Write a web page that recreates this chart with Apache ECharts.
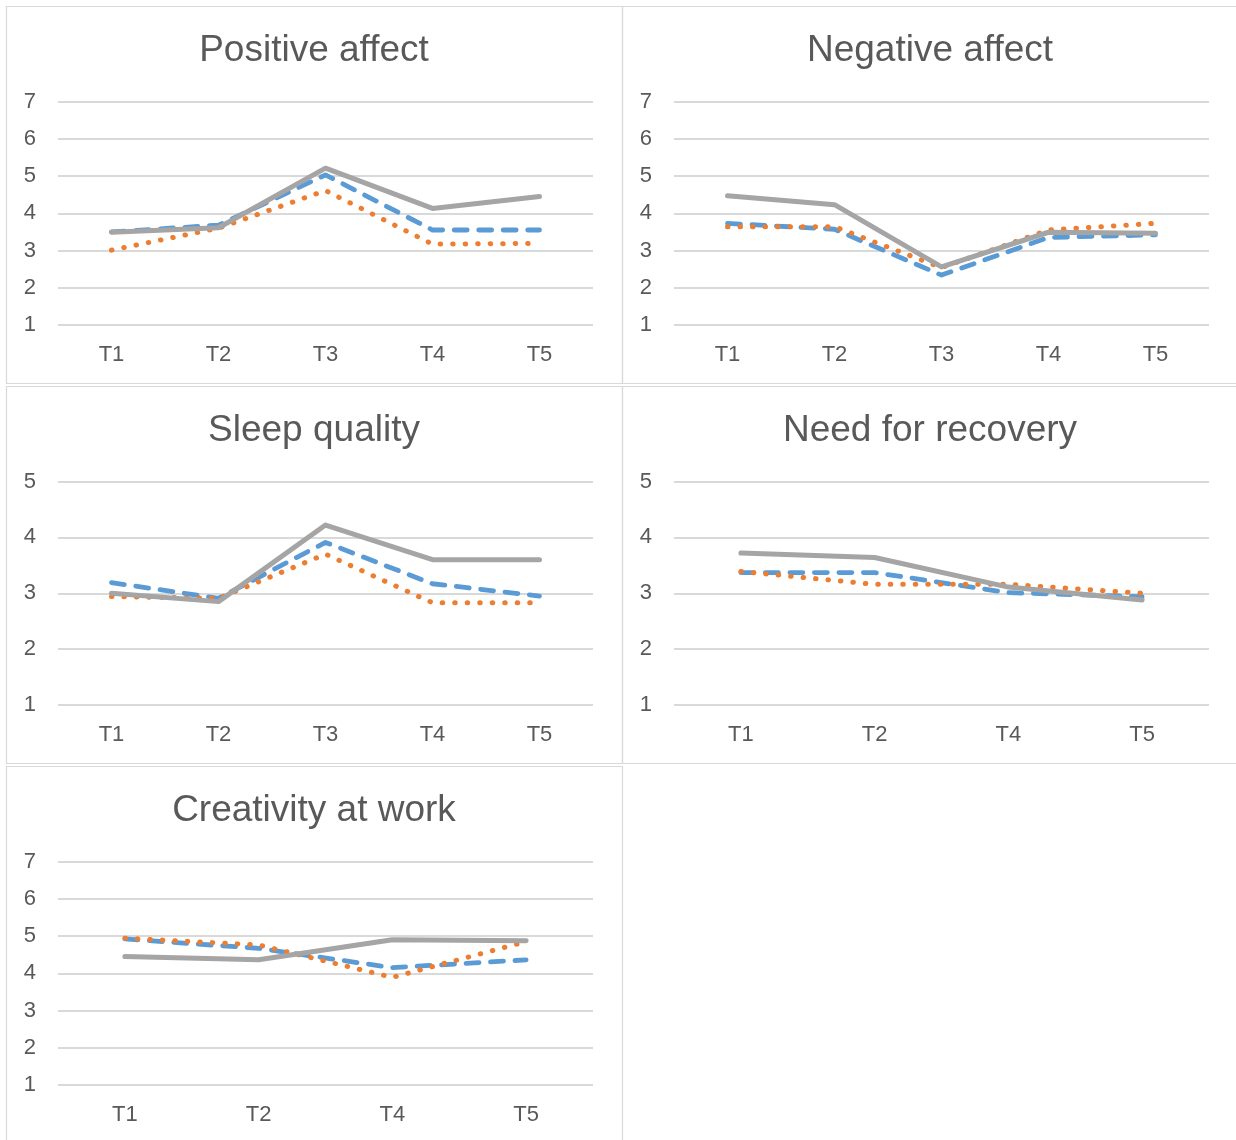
<!DOCTYPE html>
<html>
<head>
<meta charset="utf-8">
<script src="https://cdn.jsdelivr.net/npm/echarts@6/dist/echarts.min.js"></script>
<style>
html,body{margin:0;padding:0;background:#fff;}
#chart{width:1236px;height:1140px;}
</style>
</head>
<body>
<div id="chart"></div>
<script>
// ---- Data ----
const periods5 = ['T1', 'T2', 'T3', 'T4', 'T5'];
const periods4 = ['T1', 'T2', 'T4', 'T5'];
const panelTitles = ['Positive affect', 'Negative affect', 'Sleep quality', 'Need for recovery', 'Creativity at work'];
const seriesNames = ['Series 1', 'Series 2', 'Series 3'];

const posAffectBlue   = [3.50, 3.68, 5.03, 3.55, 3.55];
const posAffectOrange = [3.01, 3.60, 4.61, 3.17, 3.19];
const posAffectGray   = [3.49, 3.61, 5.21, 4.13, 4.45];

const negAffectBlue   = [3.73, 3.57, 2.34, 3.35, 3.42];
const negAffectOrange = [3.64, 3.64, 2.54, 3.55, 3.73];
const negAffectGray   = [4.47, 4.23, 2.56, 3.49, 3.46];

const sleepBlue   = [3.19, 2.91, 3.91, 3.17, 2.95];
const sleepOrange = [2.94, 2.91, 3.70, 2.83, 2.83];
const sleepGray   = [3.00, 2.85, 4.22, 3.60, 3.60];

const recoveryBlue   = [3.37, 3.37, 3.01, 2.94];
const recoveryOrange = [3.39, 3.16, 3.16, 3.00];
const recoveryGray   = [3.72, 3.64, 3.11, 2.88];

const creativityBlue   = [4.92, 4.67, 4.15, 4.36];
const creativityOrange = [4.94, 4.76, 3.89, 4.85];
const creativityGray   = [4.45, 4.36, 4.90, 4.87];

const yMax = [7, 7, 5, 5, 7];

// ---- Layout / style ----
const FONT = '"Liberation Sans", Arial, sans-serif';
const TEXT = '#595959';
const GRIDC = '#d9d9d9';
const colors = ['#5b9bd5', '#ed7d31', '#a5a5a5'];
const panels = [
  { x: 6,   y: 6,   w: 616, h: 377, cats: periods5, data: [posAffectBlue, posAffectOrange, posAffectGray] },
  { x: 622, y: 6,   w: 618, h: 377, cats: periods5, data: [negAffectBlue, negAffectOrange, negAffectGray] },
  { x: 6,   y: 386, w: 616, h: 377, cats: periods5, data: [sleepBlue, sleepOrange, sleepGray] },
  { x: 622, y: 386, w: 618, h: 377, cats: periods4, data: [recoveryBlue, recoveryOrange, recoveryGray] },
  { x: 6,   y: 766, w: 616, h: 380, cats: periods4, data: [creativityBlue, creativityOrange, creativityGray] }
];
const gridLeftOffset = 52;   // grid left relative to panel x
const gridTopOffset = 95.5;  // grid top relative to panel y
const gridW = 535;
const gridH = 223.5;

const option = {
  animation: false,
  backgroundColor: '#fff',
  title: [], grid: [], xAxis: [], yAxis: [], series: [],
  graphic: []
};

panels.forEach((p, i) => {
  option.graphic.push({
    type: 'rect', silent: true, z: -1,
    shape: { x: p.x + 0.5, y: p.y + 0.5, width: p.w, height: p.h },
    style: { fill: 'none', stroke: GRIDC, lineWidth: 1.2 }
  });
  option.title.push({
    text: panelTitles[i],
    left: p.x + p.w / 2 - (i % 2 === 1 ? 1 : 0),
    top: p.y + 26,
    padding: 0,
    textAlign: 'center',
    textStyle: { fontFamily: FONT, fontSize: 37, fontWeight: 'normal', color: TEXT }
  });
  option.grid.push({
    left: p.x + gridLeftOffset, top: p.y + gridTopOffset,
    width: gridW, height: gridH, containLabel: false
  });
  option.xAxis.push({
    type: 'category', gridIndex: i, data: p.cats, boundaryGap: true,
    axisLine: { show: false }, axisTick: { show: false }, splitLine: { show: false },
    axisLabel: { fontFamily: FONT, fontSize: 22, color: TEXT, margin: 19 }
  });
  option.yAxis.push({
    type: 'value', gridIndex: i, min: 1, max: yMax[i], interval: 1,
    axisLine: { show: false }, axisTick: { show: false },
    splitLine: { show: true, lineStyle: { color: GRIDC, width: 2 } },
    axisLabel: { fontFamily: FONT, fontSize: 22, color: TEXT, margin: 22 }
  });
  const styles = [
    { color: colors[0], width: 4.8, type: [13, 11.5], cap: 'round', join: 'round' },
    { color: colors[1], width: 5, type: [0.5, 12], cap: 'round', join: 'round' },
    { color: colors[2], width: 5, type: 'solid', cap: 'round', join: 'round' }
  ];
  p.data.forEach((arr, k) => {
    option.series.push({
      type: 'line', name: seriesNames[k], xAxisIndex: i, yAxisIndex: i,
      data: arr, symbol: 'none', smooth: false, z: 2 + k,
      lineStyle: styles[k]
    });
  });
});

const chart = echarts.init(document.getElementById('chart'), null, { renderer: 'canvas' });
chart.setOption(option);
</script>
</body>
</html>
